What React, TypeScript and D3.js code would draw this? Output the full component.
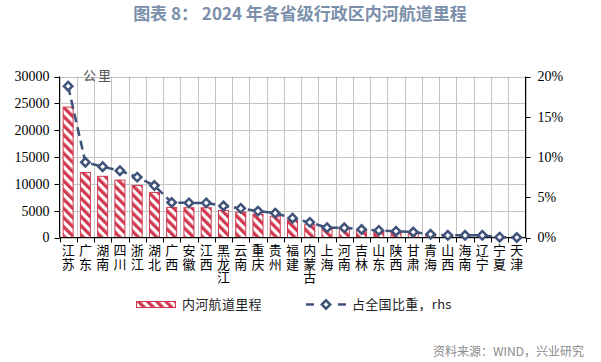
import React from "react";
import * as d3 from "d3";

const provinces = ["江苏","广东","湖南","四川","浙江","湖北","广西","安徽","江西","黑龙江","云南","重庆","贵州","福建","内蒙古","上海","河南","吉林","山东","陕西","甘肃","青海","山西","海南","辽宁","宁夏","天津"];
const mileage = [24300,12100,11400,10700,9700,8400,5600,5550,5550,5050,4700,4350,3970,3250,2400,1900,1750,1450,1150,1000,700,350,300,300,300,130,90];
const share = [18.8,9.35,8.8,8.3,7.5,6.45,4.35,4.3,4.3,3.92,3.62,3.28,3.03,2.4,1.88,1.22,1.2,1.0,0.88,0.78,0.68,0.4,0.27,0.27,0.27,0.04,0.0];
const leftTicks = [0,5000,10000,15000,20000,25000,30000];
const rightTicks = [0,5,10,15,20];

const W = 601, H = 362;
const L = 59.5, R = 525.5, T = 76.5, B = 237.5;
const RED = "#d0394f";
const BLUE = "#3f5279";
const GRID = "#c4c4c4";
const CJK = "'Noto Sans CJK SC', 'Noto Sans', sans-serif";
const NUM = "'Liberation Serif', 'Times New Roman', serif";

export default function App() {
  const x = d3.scaleBand<string>().domain(provinces).range([L, R]).paddingInner(0.42).paddingOuter(0.21);
  const yL = d3.scaleLinear().domain([0, 30000]).range([B, T]);
  const yR = d3.scaleLinear().domain([0, 20]).range([B, T]);
  const step = x.step();
  const cx = (p: string) => (x(p) as number) + x.bandwidth() / 2;
  const line = d3.line<number>().x((_, i) => cx(provinces[i])).y((d) => yR(d));
  const diamond = (px: number, py: number, r = 4.2) => `M${px},${py - r}L${px + r},${py}L${px},${py + r}L${px - r},${py}Z`;
  const boundaries = d3.range(provinces.length + 1).map((i) => L + i * step);

  return (
    <svg width={W} height={H} style={{ position: "absolute", left: 0, top: 0, background: "#fff" }}>
      <defs>
        <pattern id="hatch" width={6.5} height={6.5} patternUnits="userSpaceOnUse" patternTransform="rotate(-45)">
          <rect width={6.5} height={6.5} fill="#fff" />
          <rect width={3.3} height={6.5} fill={RED} />
        </pattern>
      </defs>
      <text x={300} y={20} textAnchor="middle" fontFamily={CJK} fontWeight="bold" fontSize={17} fill="#7b8fab">
        图表 8： 2024 年各省级行政区内河航道里程
      </text>
      {/* gridlines */}
      {leftTicks.map((t) => (
        <line key={"h" + t} x1={L} x2={R} y1={Math.round(yL(t)) + 0.5} y2={Math.round(yL(t)) + 0.5} stroke={GRID} strokeWidth={1} />
      ))}
      {boundaries.map((bx, i) => (
        <line key={"v" + i} x1={Math.round(bx) + 0.5} x2={Math.round(bx) + 0.5} y1={T} y2={B} stroke={GRID} strokeWidth={1} />
      ))}
      {/* bars */}
      {provinces.map((p, i) => (
        <rect key={"b" + p} x={x(p) as number} y={yL(mileage[i])} width={x.bandwidth()} height={B - yL(mileage[i])}
          fill="url(#hatch)" stroke={RED} strokeWidth={1} />
      ))}
      {/* axes */}
      <line x1={L} x2={L} y1={T} y2={B} stroke="#000" />
      <line x1={R} x2={R} y1={T} y2={B} stroke="#000" />
      <line x1={L} x2={R} y1={B} y2={B} stroke="#000" />
      {leftTicks.map((t) => (
        <g key={"lt" + t}>
          <line x1={L - 5} x2={L} y1={Math.round(yL(t)) + 0.5} y2={Math.round(yL(t)) + 0.5} stroke="#000" />
          <text x={L - 10} y={yL(t)} dy="0.35em" textAnchor="end" fontFamily={NUM} fontSize={14} fill="#000">{t}</text>
        </g>
      ))}
      {rightTicks.map((t) => (
        <g key={"rt" + t}>
          <line x1={R} x2={R + 5} y1={Math.round(yR(t)) + 0.5} y2={Math.round(yR(t)) + 0.5} stroke="#000" />
          <text x={R + 12} y={yR(t)} dy="0.35em" textAnchor="start" fontFamily={NUM} fontSize={14} fill="#000">{t}%</text>
        </g>
      ))}
      {boundaries.map((bx, i) => (
        <line key={"xt" + i} x1={Math.round(bx) + 0.5} x2={Math.round(bx) + 0.5} y1={B} y2={B + 5} stroke="#000" />
      ))}
      {/* line series */}
      <path d={line(share) || ""} fill="none" stroke={BLUE} strokeWidth={2.5} strokeDasharray="9,5" />
      {share.map((s, i) => (
        <path key={"m" + i} d={diamond(cx(provinces[i]), yR(s))} fill="#fff" stroke={BLUE} strokeWidth={2.5} />
      ))}
      {/* x labels, vertical writing */}
      {provinces.map((p) => (
        <text key={"xl" + p} x={cx(p)} y={244} fontFamily={CJK} fontSize={13} fill="#000"
          style={{ writingMode: "vertical-rl", textOrientation: "upright" } as any} letterSpacing={0.5}>{p}</text>
      ))}
      <text x={83} y={80} fontFamily={CJK} fontSize={13} fill="#555" letterSpacing={2}>公里</text>
      {/* legend */}
      <rect x={136.5} y={301.5} width={39} height={6} fill="url(#hatch)" stroke={RED} strokeWidth={1} />
      <text x={182} y={304.5} dy="0.35em" fontFamily={CJK} fontSize={13} fill="#222" letterSpacing={0.3}>内河航道里程</text>
      <line x1={306} x2={314} y1={304.5} y2={304.5} stroke={BLUE} strokeWidth={2.5} />
      <line x1={338} x2={346} y1={304.5} y2={304.5} stroke={BLUE} strokeWidth={2.5} />
      <path d={diamond(326, 304.5)} fill="#fff" stroke={BLUE} strokeWidth={2.5} />
      <text x={352} y={304.5} dy="0.35em" fontFamily={CJK} fontSize={13} fill="#222" letterSpacing={0.3}>占全国比重，rhs</text>
      <text x={584} y={356} textAnchor="end" fontFamily={CJK} fontSize={12} fill="#8a8a8a">资料来源：WIND，兴业研究</text>
    </svg>
  );
}
